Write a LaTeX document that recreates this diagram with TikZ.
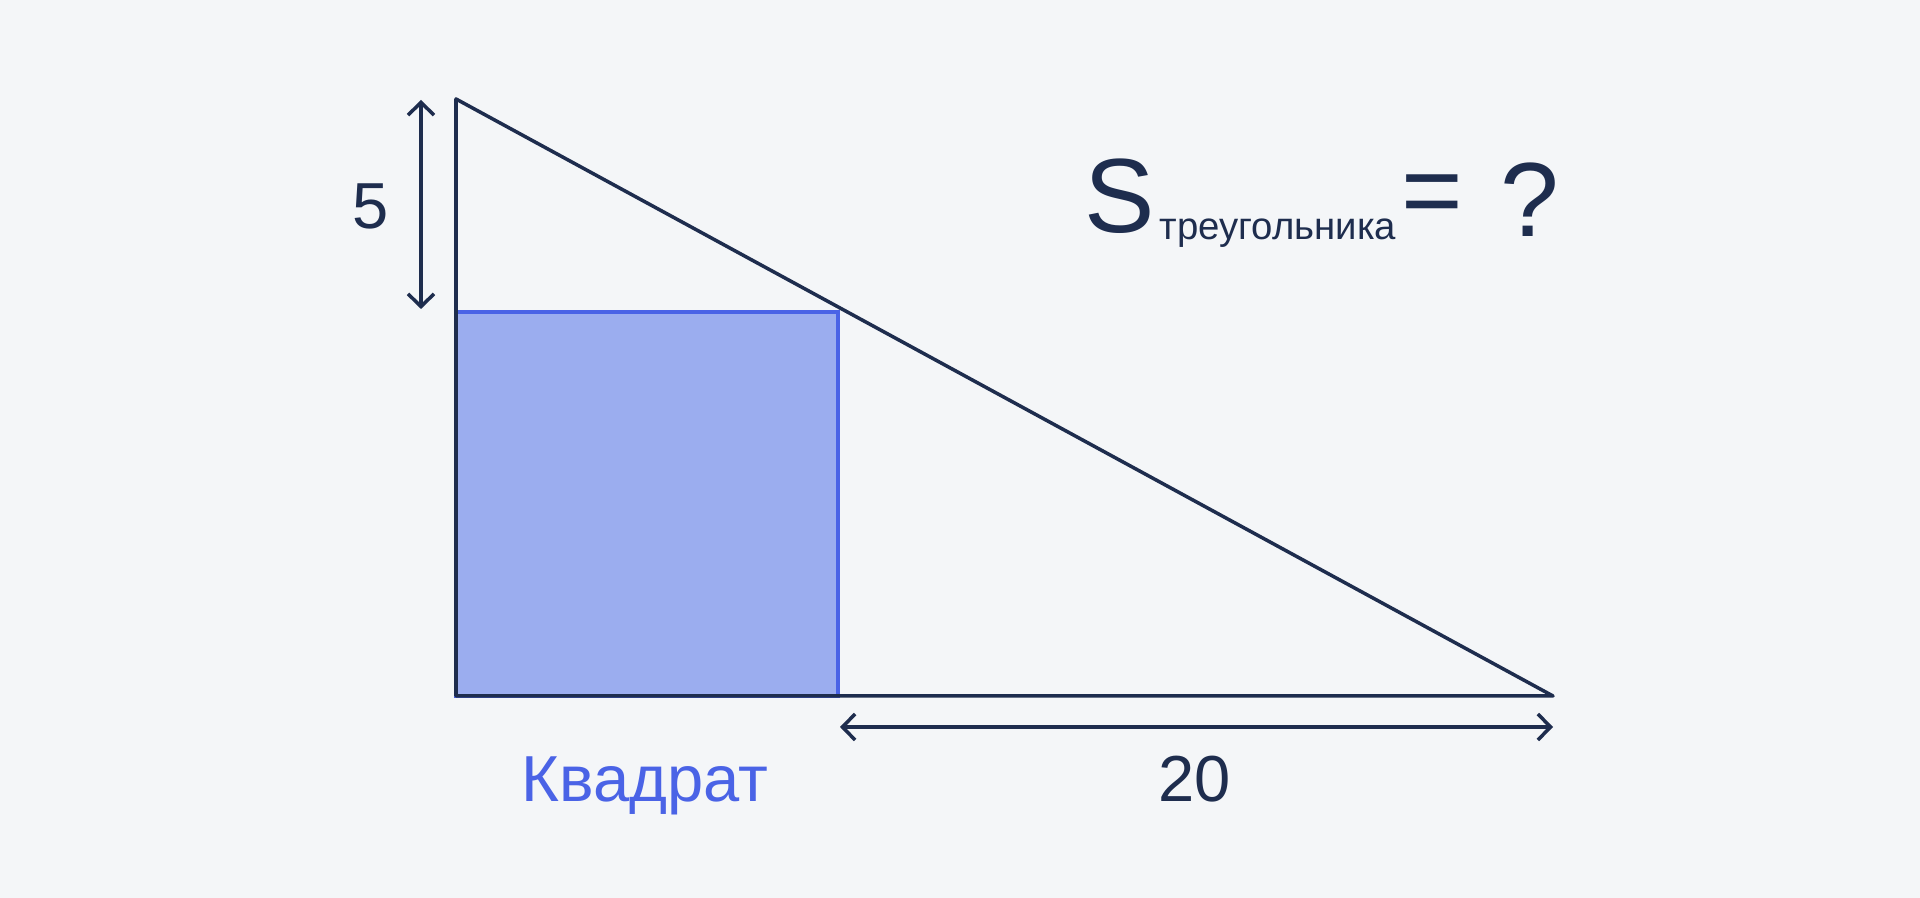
\documentclass[tikz,border=0pt]{standalone}
\usepackage{fontspec}
\setmainfont{Liberation Sans}
\usetikzlibrary{arrows.meta}

\definecolor{bgcol}{HTML}{F4F6F8}
\definecolor{ink}{HTML}{1E2D4E}
\definecolor{sqline}{HTML}{4A63E6}
\definecolor{sqfill}{HTML}{9BADEF}

\tikzset{
  edge/.style={draw=ink, line width=1pt, line join=round, line cap=round},
  dim/.style={ink, line width=1pt, {Straight Barb[length=3.6pt,width=7.4pt]}-{Straight Barb[length=3.6pt,width=7.4pt]}},
  lbl/.style={text=ink, inner sep=0pt, anchor=base, font=\fontsize{18.5}{22}\selectfont}
}

\begin{document}
\begin{tikzpicture}[x=0.01cm, y=-0.01cm]
				\fill[bgcol] (0,0) rectangle (1920,898);
				\useasboundingbox (0,0) rectangle (1920,898);
				% triangle and square
				\coordinate (A) at (456,99);
				\coordinate (B) at (456,696);
				\coordinate (C) at (1553,696);
				\coordinate (Q) at (838,312);
				\filldraw[fill=sqfill, draw=sqline, line width=1pt] (B) rectangle (Q);
				\draw[edge] (A) -- (B) -- (C) -- cycle;
				% dimension arrows
				\coordinate (v1) at (421,100);
				\coordinate (v2) at (421,309);
				\coordinate (h1) at (840,727);
				\coordinate (h2) at (1553,727);
				\draw[dim] (v1) -- (v2);
				\draw[dim] (h1) -- (h2);
				\node[lbl] (five) at (371,229) {5};
				\node[lbl] (twenty) at (1195,802) {20};
				\node[lbl, text=sqline] (square) at (645,802) {Квадрат};
				% area formula
				\node[text=ink, inner sep=0pt, anchor=base west, font=\fontsize{30}{32}\selectfont] (S) at (1084,233) {S};
				\node[text=ink, inner sep=0pt, anchor=base west, font=\fontsize{10.9}{12}\selectfont] (sub) at (1159,240) {треугольника};
				\node[text=ink, inner sep=0pt, font=\fontsize{30}{32}\selectfont] (eq) at (1432,201) {=};
				\node[text=ink, inner sep=0pt, anchor=base west, font=\fontsize{30}{32}\selectfont] (q) at (1500,237) {?};
			\end{tikzpicture}
\end{document}
